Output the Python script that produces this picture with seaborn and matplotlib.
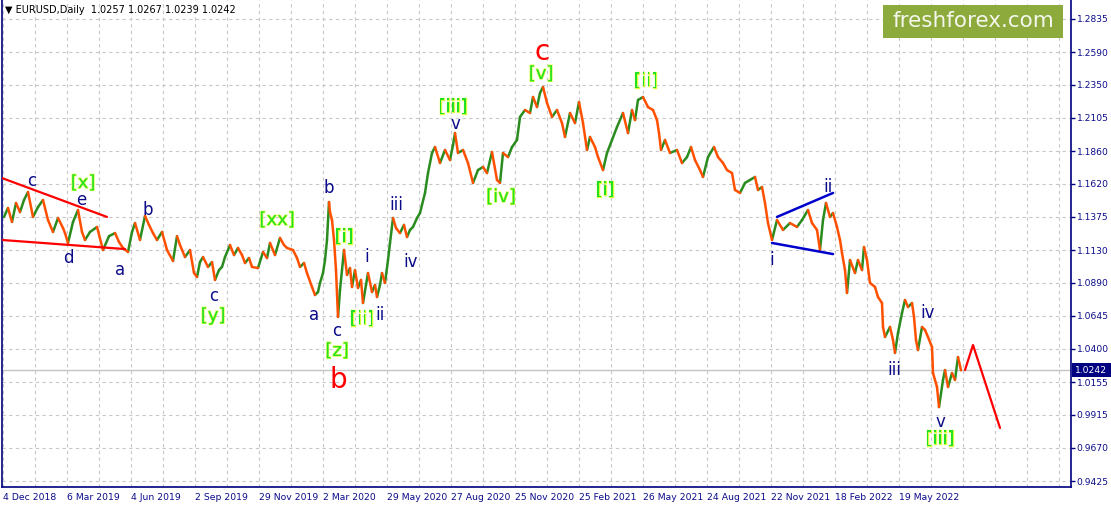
import numpy as np
import pandas as pd
import matplotlib
matplotlib.use("Agg")
import matplotlib.pyplot as plt
import matplotlib.patheffects as pe
from matplotlib.patches import Rectangle
import seaborn as sns

# ---------------- data ----------------
bars = [0, 4, 8, 12, 16, 20, 24, 29, 34, 39, 44, 49, 54, 59, 61, 64, 69, 74, 78, 81, 86, 93, 99, 105, 111, 115, 119,
        124, 128, 131, 136, 141, 145, 149, 153, 158, 163, 169, 173, 176, 181, 186, 190, 193, 196, 199, 204, 208, 211,
        215, 218, 221, 226, 230, 234, 238, 241, 245, 248, 254, 259, 263, 266, 271, 276, 280, 283, 289, 293, 296, 300,
        303, 308, 311, 314, 316, 319, 321, 323, 325, 326, 328, 330, 332, 334, 336, 338, 340, 343, 346, 348, 351, 354,
        357, 359, 362, 364, 368, 371, 373, 376, 378, 381, 384, 386, 389, 392, 396, 400, 403, 406, 409, 413, 416, 421,
        424, 428, 431, 436, 441, 446, 449, 451, 454, 459, 464, 469, 474, 479, 483, 488, 493, 496, 499, 504, 508, 513,
        516, 521, 526, 529, 533, 536, 539, 543, 548, 553, 558, 561, 566, 571, 575, 579, 583, 586, 591, 594, 599, 603,
        608, 613, 619, 624, 628, 631, 634, 639, 644, 649, 653, 655, 657, 661, 666, 673, 678, 683, 687, 691, 696, 699,
        704, 710, 714, 719, 723, 728, 731, 736, 741, 746, 751, 754, 758, 761, 764, 768, 773, 779, 786, 793, 798, 804,
        808, 813, 816, 819, 822, 824, 826, 829, 833, 836, 838, 841, 843, 846, 851, 854, 858, 860, 863, 866, 871, 874,
        878, 879, 881, 886, 889, 891, 894, 898, 901, 904, 908, 910, 912, 914, 918, 921, 924, 928, 929, 933, 935, 939,
        941, 944, 948, 951, 954, 957]
closes = [1.1374, 1.1440, 1.1337, 1.1477, 1.1410, 1.1499, 1.1558, 1.1374, 1.1447, 1.1499, 1.1351, 1.1263, 1.1366,
          1.1292, 1.1255, 1.1182, 1.1337, 1.1425, 1.1263, 1.1204, 1.1263, 1.1300, 1.1130, 1.1232, 1.1255, 1.1189,
          1.1145, 1.1115, 1.1263, 1.1329, 1.1204, 1.1381, 1.1315, 1.1255, 1.1204, 1.1263, 1.1130, 1.1049, 1.1232,
          1.1167, 1.1078, 1.1130, 1.0960, 1.0931, 1.1041, 1.1078, 1.1005, 1.1041, 1.0909, 1.0982, 1.1005, 1.1078,
          1.1167, 1.1093, 1.1145, 1.1093, 1.1034, 1.1071, 1.1005, 1.0997, 1.1115, 1.1071, 1.1182, 1.1093, 1.1219,
          1.1167, 1.1145, 1.1130, 1.1071, 1.1005, 1.1034, 1.0960, 1.0857, 1.0798, 1.0820, 1.0887, 1.0960, 1.1056,
          1.1204, 1.1484, 1.1410, 1.1351, 1.1204, 1.0982, 1.0636, 1.0835, 1.0982, 1.1130, 1.0946, 1.0997, 1.0857,
          1.0982, 1.0850, 1.0909, 1.0739, 1.0872, 1.0960, 1.0820, 1.0872, 1.0783, 1.0872, 1.0960, 1.0887, 1.1056,
          1.1182, 1.1366, 1.1292, 1.1255, 1.1315, 1.1226, 1.1278, 1.1300, 1.1366, 1.1403, 1.1551, 1.1698, 1.1846,
          1.1890, 1.1772, 1.1868, 1.1794, 1.1905, 1.1993, 1.1846, 1.1868, 1.1772, 1.1625, 1.1720, 1.1743, 1.1698,
          1.1853, 1.1647, 1.1625, 1.1846, 1.1816, 1.1890, 1.1942, 1.2112, 1.2163, 1.2141, 1.2259, 1.2185, 1.2289,
          1.2333, 1.2215, 1.2112, 1.2163, 1.2067, 1.1964, 1.2141, 1.2067, 1.2222, 1.2067, 1.1868, 1.1964, 1.1890,
          1.1816, 1.1720, 1.1846, 1.1942, 1.2038, 1.2141, 1.1993, 1.2163, 1.2089, 1.2237, 1.2259, 1.2185, 1.2163,
          1.2089, 1.1993, 1.1868, 1.1942, 1.1846, 1.1868, 1.1772, 1.1816, 1.1890, 1.1794, 1.1720, 1.1669, 1.1816,
          1.1890, 1.1816, 1.1772, 1.1720, 1.1698, 1.1573, 1.1551, 1.1625, 1.1647, 1.1669, 1.1573, 1.1595, 1.1477,
          1.1329, 1.1204, 1.1351, 1.1278, 1.1329, 1.1300, 1.1351, 1.1425, 1.1329, 1.1278, 1.1130, 1.1351, 1.1477,
          1.1425, 1.1374, 1.1403, 1.1300, 1.1204, 1.1108, 1.0982, 1.0813, 1.1056, 1.0960, 1.1056, 1.0982, 1.1152,
          1.1056, 1.0887, 1.0857, 1.0783, 1.0739, 1.0562, 1.0488, 1.0562, 1.0466, 1.0370, 1.0518, 1.0665, 1.0761,
          1.0709, 1.0739, 1.0636, 1.0466, 1.0392, 1.0562, 1.0540, 1.0488, 1.0414, 1.0222, 1.0119, 0.9971, 1.0171,
          1.0244, 1.0119, 1.0222, 1.0171, 1.0340, 1.0242]

date_labels = ["4 Dec 2018", "6 Mar 2019", "4 Jun 2019", "2 Sep 2019", "29 Nov 2019", "2 Mar 2020",
               "29 May 2020", "27 Aug 2020", "25 Nov 2020", "25 Feb 2021", "26 May 2021", "24 Aug 2021",
               "22 Nov 2021", "18 Feb 2022", "19 May 2022"]
price_ticks = [1.2835, 1.2590, 1.2350, 1.2105, 1.1860, 1.1620, 1.1375, 1.1130, 1.0890, 1.0645,
               1.0400, 1.0155, 0.9915, 0.9670, 0.9425]

header = "EURUSD,Daily  1.0257 1.0267 1.0239 1.0242"
last_price = 1.0242

# projection (red zig-zag)
proj_bars = [961, 969, 996]
proj_prices = [1.0244, 1.0429, 0.9817]

# trend lines: (bar0, price0, bar1, price1)
red_lines = [(-2, 1.1661, 103, 1.1374), (-2, 1.1204, 121, 1.1137)]
blue_lines = [(773, 1.1374, 829, 1.1551), (768, 1.1182, 829, 1.1100)]

# wave labels: text, bar, price
navy_labels = [("c", 28, 1.1639), ("e", 77, 1.1499), ("d", 64, 1.1071), ("a", 116, 1.0982), ("b", 144, 1.1425),
               ("c", 210, 1.0790), ("a", 310, 1.0650), ("b", 325, 1.1588), ("c", 333, 1.0532), ("i", 363, 1.1078),
               ("ii", 376, 1.0650), ("iii", 392, 1.1462), ("iv", 407, 1.1041), ("v", 451, 1.2060),
               ("i", 768, 1.1056), ("ii", 824, 1.1595), ("iii", 890, 1.0244), ("iv", 924, 1.0665), ("v", 936, 0.9861)]
green_labels = [("[x]", 79, 1.1624), ("[y]", 209, 1.0643), ("[xx]", 273, 1.1351), ("[i]", 340, 1.1226),
                ("[z]", 333, 1.0385), ("[ii]", 358, 1.0621), ("[iii]", 449, 1.2185), ("[iv]", 497, 1.1521),
                ("[v]", 537, 1.2429), ("[i]", 601, 1.1573), ("[ii]", 642, 1.2377), ("[iii]", 936, 0.9735)]
red_labels = [("b", 334, 1.0171), ("c", 538, 1.2590)]

# ---------------- style ----------------
sns.set_style("white")
plt.rcParams['font.family'] = ['DejaVu Sans']
NAVY = "#0B0B8A"
UP = "#2A8C1E"
DOWN = "#FF5000"
GRID = "#C8C8C8"

W, H = 1111, 505
fig = plt.figure(figsize=(W / 100, H / 100), dpi=100)
ax = fig.add_axes([2 / W, 18 / H, 1069 / W, 487 / H])
ax.set_xlim(-2, 1067)
ax.set_ylim(0.9381, 1.2975)

# grid
for p in price_ticks:
    ax.axhline(p, color=GRID, lw=0.8, ls=(0, (3, 3)), zorder=0)
for xg in range(-1, 1067, 32):
    ax.axvline(xg, color=GRID, lw=0.8, ls=(0, (3, 3)), zorder=0)
ax.axhline(last_price, color="#C4C4C4", lw=1.0, zorder=0.5)

# price path: segments coloured by direction
rows = []
for i in range(len(bars) - 1):
    d = "up" if closes[i + 1] >= closes[i] else "down"
    rows.append((i, bars[i], closes[i], d))
    rows.append((i, bars[i + 1], closes[i + 1], d))
df = pd.DataFrame(rows, columns=["seg", "bar", "price", "dir"])
sns.lineplot(data=df, x="bar", y="price", units="seg", hue="dir", estimator=None, sort=False,
             palette={"up": UP, "down": DOWN}, legend=False, lw=1.8, ax=ax, zorder=3)

# trend lines and projection
for (b0, p0, b1, p1) in red_lines:
    sns.lineplot(x=[b0, b1], y=[p0, p1], color="#FF0000", lw=1.6, ax=ax, zorder=4)
for (b0, p0, b1, p1) in blue_lines:
    sns.lineplot(x=[b0, b1], y=[p0, p1], color="#0000CC", lw=1.8, ax=ax, zorder=4)
sns.lineplot(x=proj_bars, y=proj_prices, color="#FF0000", lw=1.6, ax=ax, zorder=4, sort=False)

# wave labels
for t, b, p in navy_labels:
    ax.text(b, p, t, color=NAVY, fontsize=12, ha="center", va="center", zorder=5)
for t, b, p in green_labels:
    ax.text(b, p, t, color="#22E022", fontsize=13, ha="center", va="center", zorder=5,
            path_effects=[pe.withStroke(linewidth=1.0, foreground="#D8FF40")])
for t, b, p in red_labels:
    ax.text(b, p, t, color="#FF0000", fontsize=20, ha="center", va="center", zorder=5)

# axes / ticks
for s in ["left", "right", "bottom"]:
    ax.spines[s].set_color("#000080")
    ax.spines[s].set_linewidth(1.2)
ax.spines["top"].set_visible(False)
ax.yaxis.tick_right()
ax.set_yticks(price_ticks)
ax.set_yticklabels([f"{p:.4f}" for p in price_ticks])
ax.set_xticks([-1 + 64 * k for k in range(len(date_labels))])
ax.set_xticklabels(date_labels, ha="left")
ax.tick_params(axis="y", colors="#000080", labelcolor=NAVY, labelsize=6.6, length=3, width=1, pad=1,
               direction="out")
ax.tick_params(axis="x", colors="#000080", labelcolor=NAVY, labelsize=6.7, length=3, width=1, pad=1,
               direction="out")
ax.set_xlabel("")
ax.set_ylabel("")

# header
fig.text(5 / W, 1 - 10 / H, "\u25BC " + header, fontsize=7, color="black", ha="left", va="center")

# logo
fig.patches.append(Rectangle((883 / W, 1 - 38 / H), 180 / W, 33 / H, transform=fig.transFigure,
                             facecolor="#8DAA3C", edgecolor="none", zorder=10))
fig.text(973 / W, 1 - 21 / H, "freshforex.com", fontsize=15.5, color="#F4F6EC", ha="center", va="center", zorder=11)

# current price box
y_last = 18 / H + (last_price - 0.9381) / (1.2975 - 0.9381) * 487 / H
fig.patches.append(Rectangle((1072 / W, y_last - 7 / H), 39 / W, 14 / H, transform=fig.transFigure,
                             facecolor="#000080", edgecolor="none", zorder=10))
fig.text(1091 / W, y_last, f"{last_price:.4f}", fontsize=6.6, color="white", ha="center", va="center", zorder=11)

fig.savefig("out.png", dpi=100)
